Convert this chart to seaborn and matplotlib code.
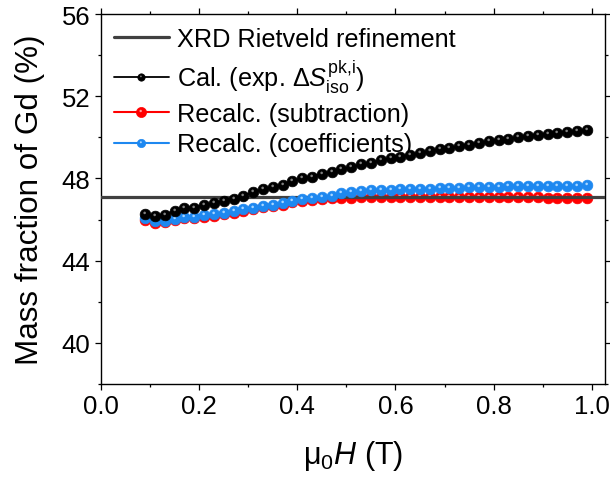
import matplotlib
matplotlib.use("Agg")
import matplotlib.pyplot as plt
import seaborn as sns
import numpy as np
from matplotlib.path import Path
from matplotlib.lines import Line2D
from matplotlib.legend_handler import HandlerTuple

# ---------------- data ----------------
field_T = [0.09, 0.11, 0.13, 0.15, 0.17, 0.19, 0.21, 0.23, 0.25, 0.27,
           0.29, 0.31, 0.33, 0.35, 0.37, 0.39, 0.41, 0.43, 0.45, 0.47,
           0.49, 0.51, 0.53, 0.55, 0.57, 0.59, 0.61, 0.63, 0.65, 0.67,
           0.69, 0.71, 0.73, 0.75, 0.77, 0.79, 0.81, 0.83, 0.85, 0.87,
           0.89, 0.91, 0.93, 0.95, 0.97, 0.99]

cal_exp = [46.28, 46.17, 46.24, 46.43, 46.57, 46.58, 46.70, 46.82, 46.90, 47.02,
           47.16, 47.33, 47.48, 47.60, 47.69, 47.87, 48.01, 48.09, 48.23, 48.33,
           48.45, 48.56, 48.68, 48.77, 48.88, 48.98, 49.06, 49.16, 49.25, 49.35,
           49.43, 49.49, 49.58, 49.65, 49.73, 49.82, 49.88, 49.94, 50.01, 50.07,
           50.12, 50.17, 50.22, 50.25, 50.30, 50.36]

recalc_sub = [46.00, 45.85, 45.86, 45.97, 46.06, 46.07, 46.13, 46.18, 46.26, 46.34,
              46.44, 46.50, 46.60, 46.65, 46.73, 46.84, 46.92, 46.97, 47.01, 47.04,
              47.06, 47.07, 47.08, 47.08, 47.09, 47.09, 47.10, 47.10, 47.10, 47.11,
              47.11, 47.11, 47.12, 47.12, 47.12, 47.12, 47.11, 47.11, 47.10, 47.09,
              47.08, 47.07, 47.06, 47.05, 47.04, 47.03]

recalc_coef = [46.08, 45.93, 45.93, 46.04, 46.13, 46.13, 46.20, 46.25, 46.33, 46.41,
               46.52, 46.57, 46.68, 46.73, 46.79, 46.88, 46.98, 47.04, 47.09, 47.16,
               47.27, 47.35, 47.40, 47.43, 47.43, 47.46, 47.49, 47.49, 47.47, 47.49,
               47.52, 47.54, 47.54, 47.56, 47.59, 47.60, 47.60, 47.62, 47.63, 47.63,
               47.65, 47.63, 47.65, 47.65, 47.65, 47.66]

xrd_value = 47.1

labels = ["XRD Rietveld refinement",
          r"Cal. (exp. $\mathrm{Δ}\mathit{S}^{\mathrm{pk{,}i}}_{\mathrm{iso}}$)",
          "Recalc. (subtraction)",
          "Recalc. (coefficients)"]

x_ticks = [0.0, 0.2, 0.4, 0.6, 0.8, 1.0]
y_ticks = [40, 44, 48, 52, 56]

# ---------------- style ----------------
sns.set_theme(style="ticks")
plt.rcParams["font.family"] = ["Liberation Sans", "DejaVu Sans"]
plt.rcParams["mathtext.fontset"] = "custom"
plt.rcParams["mathtext.rm"] = "Liberation Sans"
plt.rcParams["mathtext.it"] = "Liberation Sans:italic"
plt.rcParams["mathtext.bf"] = "Liberation Sans:bold"
plt.rcParams["text.color"] = "black"
plt.rcParams["axes.labelcolor"] = "black"
plt.rcParams["xtick.color"] = "black"
plt.rcParams["ytick.color"] = "black"

fig = plt.figure(figsize=(6.10, 4.81), dpi=100)
ax = fig.add_axes([0.1656, 0.1996, 0.8262, 0.7692])

# highlight marker (small offset spot; anchor points keep its scale)
circ = Path.circle(center=(-0.08, 0.15), radius=0.12)
hl_path = Path(np.vstack([circ.vertices, [[0.5, 0.5]], [[-0.5, -0.5]]]),
               np.concatenate([circ.codes, [Path.MOVETO, Path.MOVETO]]))

MS = 7.7
series = [
    (recalc_sub, "#ff0000", "#ff9a9a", 3),
    (recalc_coef, "#1e88f0", "#a8d6ff", 4),
    (cal_exp, "#000000", "#808080", 5),
]

ax.axhline(xrd_value, color="#404040", lw=2.3, zorder=3.5)

for yv, c, hc, z in series:
    sns.lineplot(x=field_T, y=yv, ax=ax, color=c, lw=1.5, marker="o",
                 markersize=MS, markeredgewidth=0.5, markeredgecolor=c,
                 zorder=z)
    sns.lineplot(x=field_T, y=yv, ax=ax, color=hc, linestyle="",
                 marker=hl_path, markersize=MS, markeredgewidth=0,
                 zorder=z + 0.1)

ax.set_xlim(0.0, 1.027)
ax.set_ylim(38.2, 56)
ax.set_xticks(x_ticks)
ax.set_xticklabels([f"{v:.1f}" for v in x_ticks])
ax.set_xticks([0.1, 0.3, 0.5, 0.7, 0.9], minor=True)
ax.set_yticks(y_ticks)
ax.set_yticklabels([str(v) for v in y_ticks])
ax.set_yticks([38, 42, 46, 50, 54], minor=True)

ax.tick_params(which="both", direction="out", top=True, right=True,
               labeltop=False, labelright=False, color="black", width=0.9)
ax.tick_params(which="major", length=4.5, labelsize=18.5, pad=3)
ax.tick_params(which="minor", length=2.5)
for s in ax.spines.values():
    s.set_linewidth(1.0)
    s.set_color("black")

ax.set_xlabel(r"$\mathrm{μ}_0\mathit{H}$ (T)", fontsize=22, labelpad=14)
ax.set_ylabel("Mass fraction of Gd (%)", fontsize=22.6, labelpad=12)

# legend
def mk(c, hc, ms, lw):
    base = Line2D([], [], color=c, lw=lw, marker="o", markersize=ms,
                  markeredgewidth=0.5, markeredgecolor=c)
    hl = Line2D([], [], color=hc, linestyle="", marker=hl_path,
                markersize=ms, markeredgewidth=0)
    return (base, hl)

handles = [Line2D([], [], color="#404040", lw=2.3),
           mk("#000000", "#808080", 5.3, 1.3),
           mk("#ff0000", "#ff9a9a", 7.3, 1.5),
           mk("#1e88f0", "#a8d6ff", 6.0, 1.5)]

leg = ax.legend(handles, labels, loc="upper left", bbox_to_anchor=(0.0, 1.0),
                frameon=False, fontsize=18.2, handlelength=2.2,
                handletextpad=0.3, labelspacing=0.27, borderaxespad=0.1,
                numpoints=1,
                handler_map={tuple: HandlerTuple(ndivide=1, pad=0)})

fig.savefig("out.png", dpi=100)
